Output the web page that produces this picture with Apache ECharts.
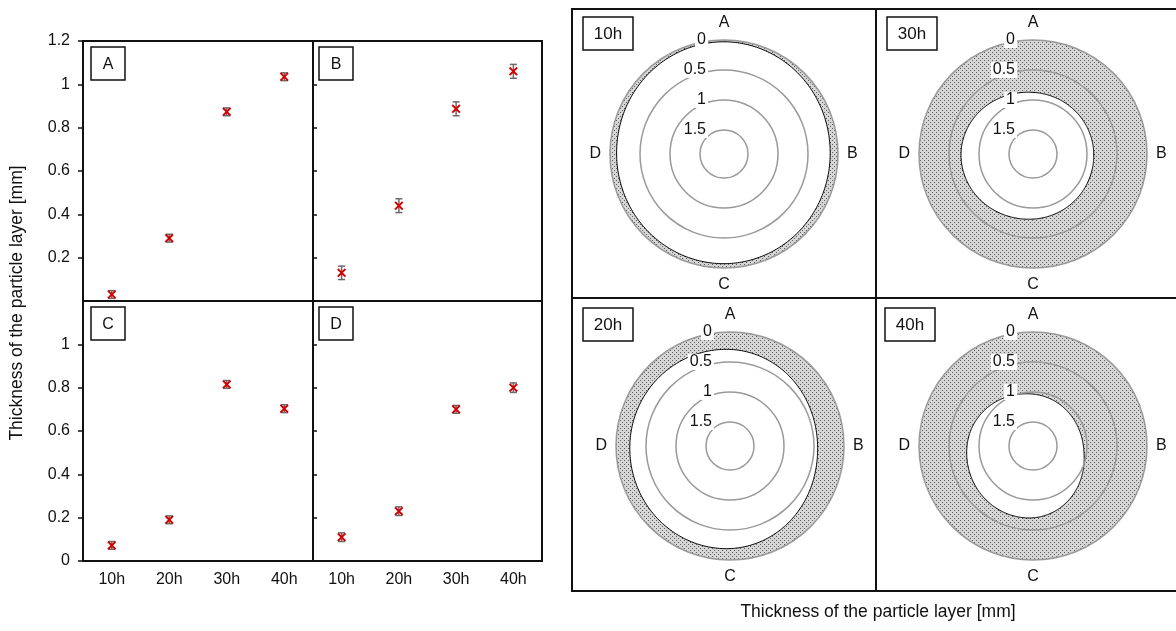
<!DOCTYPE html>
<html><head><meta charset="utf-8">
<script src="https://cdn.jsdelivr.net/npm/echarts@6/dist/echarts.min.js"></script>
<style>html,body{margin:0;padding:0;background:#fff}#c{width:1176px;height:631px}</style>
</head><body><div id="c"></div><script>
// ---------------- data ----------------
const times = ['10h', '20h', '30h', '40h'];
const positions = ['A', 'B', 'C', 'D'];
const valA = [0.03, 0.29, 0.873, 1.035];
const errA = [0.018, 0.018, 0.018, 0.018];
const valB = [0.13, 0.44, 0.887, 1.06];
const errB = [0.031, 0.032, 0.032, 0.032];
const valC = [0.072, 0.19, 0.815, 0.703];
const errC = [0.018, 0.018, 0.018, 0.018];
const valD = [0.11, 0.23, 0.70, 0.80];
const errD = [0.02, 0.02, 0.018, 0.022];
const yTitle = 'Thickness of the particle layer [mm]';

// ---------------- layout / style ----------------
const FONT = "'Liberation Sans', Arial, sans-serif";
const TXT = '#111';
const panelVals = [valA, valB, valC, valD];
const panelErrs = [errA, errB, errC, errD];
const gridRects = [
  {left: 83, top: 41, width: 230, height: 260},
  {left: 313, top: 41, width: 229, height: 260},
  {left: 83, top: 301, width: 230, height: 260},
  {left: 313, top: 301, width: 229, height: 260}
];
const letterBoxes = [[91, 47], [319, 47], [91, 307], [319, 307]];
// polar order follows times: 10h, 20h, 30h, 40h
const polarCenters = [[724, 154], [730, 446], [1033, 154], [1033, 446]];
const timeBoxes = [[583, 17], [583, 308], [887, 17], [885, 308]];
const POLAR_R = 114;

function makePattern() {
  const c = document.createElement('canvas');
  c.width = 4; c.height = 4;
  const g = c.getContext('2d');
  g.fillStyle = '#d6d6d6'; g.fillRect(0, 0, 4, 4);
  g.fillStyle = '#5e5e5e';
  g.fillRect(0, 0, 1, 1); g.fillRect(2, 2, 1, 1);
  return c;
}
const pattern = {image: makePattern(), repeat: 'repeat'};

function errItem(params, api) {
  const x = api.value(0), v = api.value(1), e = api.value(2);
  const hi = api.coord([x, v + e]), lo = api.coord([x, v - e]);
  const w = 3.5;
  const st = {stroke: '#6a6a6a', lineWidth: 1.5};
  return {type: 'group', children: [
    {type: 'line', shape: {x1: hi[0], y1: hi[1], x2: lo[0], y2: lo[1]}, style: st},
    {type: 'line', shape: {x1: hi[0] - w, y1: hi[1], x2: hi[0] + w, y2: hi[1]}, style: st},
    {type: 'line', shape: {x1: lo[0] - w, y1: lo[1], x2: lo[0] + w, y2: lo[1]}, style: st}
  ]};
}

function catmull(a, b, c, d, t) {
  const t2 = t * t, t3 = t2 * t;
  return 0.5 * ((2 * b) + (-a + c) * t + (2 * a - 5 * b + 4 * c - d) * t2 + (-a + 3 * b - 3 * c + d) * t3);
}

function ringItem(params, api) {
  if (params.dataIndexInside !== 0) return null;
  const cs = params.coordSys;
  const cx = cs.cx, cy = cs.cy;
  const n = positions.length;
  const vals = [], angs = [];
  for (let j = 0; j < n; j++) {
    vals.push(api.value(0, j));
    const p = api.coord([0, api.value(1, j)]);
    angs.push(Math.atan2(cy - p[1], p[0] - cx));
  }
  let d = angs[1] - angs[0];
  while (d > Math.PI) d -= 2 * Math.PI;
  while (d <= -Math.PI) d += 2 * Math.PI;
  const dir = d < 0 ? -1 : 1;
  const p0 = api.coord([0, 0]), p1 = api.coord([1, 0]);
  const r0 = Math.hypot(p0[0] - cx, p0[1] - cy), r1 = Math.hypot(p1[0] - cx, p1[1] - cy);
  const rOf = v => r0 + (r1 - r0) * v;
  const M = 360;
  const inner = [], outer = [];
  for (let k = 0; k < M; k++) {
    const t = k / M * n;
    const i = Math.floor(t), f = t - i;
    const v = catmull(vals[(i - 1 + n) % n], vals[i % n], vals[(i + 1) % n], vals[(i + 2) % n], f);
    const ang = angs[0] + dir * 2 * Math.PI * t / n;
    const r = rOf(v);
    inner.push([cx + r * Math.cos(ang), cy - r * Math.sin(ang)]);
    outer.push([cx + r0 * Math.cos(ang), cy - r0 * Math.sin(ang)]);
  }
  let path = 'M' + outer[0][0].toFixed(2) + ' ' + outer[0][1].toFixed(2);
  for (let k = 1; k < M; k++) path += 'L' + outer[k][0].toFixed(2) + ' ' + outer[k][1].toFixed(2);
  path += 'Z M' + inner[M - 1][0].toFixed(2) + ' ' + inner[M - 1][1].toFixed(2);
  for (let k = M - 2; k >= 0; k--) path += 'L' + inner[k][0].toFixed(2) + ' ' + inner[k][1].toFixed(2);
  path += 'Z';
  return {type: 'group', children: [
    {type: 'path', shape: {pathData: path}, style: {fill: pattern, stroke: null}},
    {type: 'polygon', shape: {points: inner}, style: {fill: null, stroke: '#000', lineWidth: 1}}
  ]};
}

const grid = [], xAxis = [], yAxis = [], series = [];
gridRects.forEach((g, i) => {
  grid.push(Object.assign({show: true, borderColor: '#111', borderWidth: 2, backgroundColor: 'transparent'}, g));
  const bottom = i >= 2, leftCol = i % 2 === 0;
  xAxis.push({
    gridIndex: i, type: 'category', data: times,
    axisLine: {show: false}, axisTick: {show: false}, splitLine: {show: false},
    axisLabel: {show: bottom, margin: 11, fontSize: 16, color: TXT, fontFamily: FONT}
  });
  yAxis.push({
    gridIndex: i, type: 'value', min: 0, max: 1.2, interval: 0.2,
    axisLine: {show: false}, splitLine: {show: false},
    axisTick: {show: true, inside: !leftCol, length: leftCol ? 5 : 4, lineStyle: {color: '#111', width: 1.5}},
    axisLabel: {show: leftCol, margin: 13, fontSize: 16, color: TXT, fontFamily: FONT,
      showMinLabel: bottom, showMaxLabel: !bottom}
  });
  series.push({
    type: 'custom', xAxisIndex: i, yAxisIndex: i, renderItem: errItem, z: 2,
    data: times.map((t, k) => [k, panelVals[i][k], panelErrs[i][k]])
  });
  series.push({
    type: 'scatter', xAxisIndex: i, yAxisIndex: i, z: 3,
    symbol: 'path://M1.5,0L5,3.5L8.5,0L10,1.5L6.5,5L10,8.5L8.5,10L5,6.5L1.5,10L0,8.5L3.5,5L0,1.5Z',
    symbolSize: 9, itemStyle: {color: '#d40000', opacity: 1},
    data: times.map((t, k) => [k, panelVals[i][k]])
  });
});

const polar = [], angleAxis = [], radiusAxis = [];
times.forEach((t, i) => {
  polar.push({center: polarCenters[i], radius: POLAR_R});
  angleAxis.push({
    polarIndex: i, type: 'value', min: 0, max: positions.length, interval: 1,
    startAngle: 90, clockwise: true,
    axisLine: {show: false}, axisTick: {show: false}, splitLine: {show: false},
    axisLabel: {margin: 9, fontSize: 16, color: TXT, fontFamily: FONT,
      formatter: v => positions[Math.round(v)] || ''}
  });
  radiusAxis.push({
    polarIndex: i, type: 'value', min: 0, max: 1.9, interval: 0.5, inverse: true, z: 5,
    axisLine: {show: false}, axisTick: {show: false},
    splitLine: {show: true, lineStyle: {color: '#9a9a9a', width: 1.5}},
    axisLabel: {margin: 16, fontSize: 16, color: TXT, fontFamily: FONT, showMaxLabel: false,
      backgroundColor: '#fff', padding: [0, 2]}
  });
  series.push({
    type: 'custom', coordinateSystem: 'polar', polarIndex: i, renderItem: ringItem, z: 2,
    data: positions.map((p, j) => [panelVals[j][i], j])
  });
});

const graphic = [];
function box(x, y, w, h, text, fs) {
  graphic.push({type: 'rect', shape: {x: x, y: y, width: w, height: h},
    style: {fill: '#fff', stroke: '#111', lineWidth: 1.5}, z: 10});
  graphic.push({type: 'text', x: x + w / 2, y: y + h / 2 + 1,
    style: {text: text, fill: TXT, font: fs + 'px ' + FONT, textAlign: 'center', textVerticalAlign: 'middle', verticalAlign: 'middle'}, z: 11});
}
positions.forEach((p, i) => box(letterBoxes[i][0], letterBoxes[i][1], 34, 33, p, 16));
times.forEach((t, i) => box(timeBoxes[i][0], timeBoxes[i][1], 50, 33, t, 17));
graphic.push({type: 'rect', shape: {x: 572, y: 9, width: 620, height: 582},
  style: {fill: 'none', stroke: '#111', lineWidth: 2}, z: 9});
graphic.push({type: 'line', shape: {x1: 876, y1: 9, x2: 876, y2: 591}, style: {stroke: '#111', lineWidth: 2}, z: 9});
graphic.push({type: 'line', shape: {x1: 572, y1: 298, x2: 1176, y2: 298}, style: {stroke: '#111', lineWidth: 2}, z: 9});
graphic.push({type: 'text', x: 17, y: 303, rotation: Math.PI / 2,
  style: {text: yTitle, fill: TXT, font: '17.5px ' + FONT, textAlign: 'center', textVerticalAlign: 'middle', verticalAlign: 'middle'}});
graphic.push({type: 'text', x: 878, y: 612,
  style: {text: yTitle, fill: TXT, font: '17.5px ' + FONT, textAlign: 'center', textVerticalAlign: 'middle', verticalAlign: 'middle'}});

const chart = echarts.init(document.getElementById('c'), null, {renderer: 'canvas'});
chart.setOption({
  animation: false, backgroundColor: '#fff',
  grid, xAxis, yAxis, polar, angleAxis, radiusAxis, series, graphic
});
</script></body></html>
